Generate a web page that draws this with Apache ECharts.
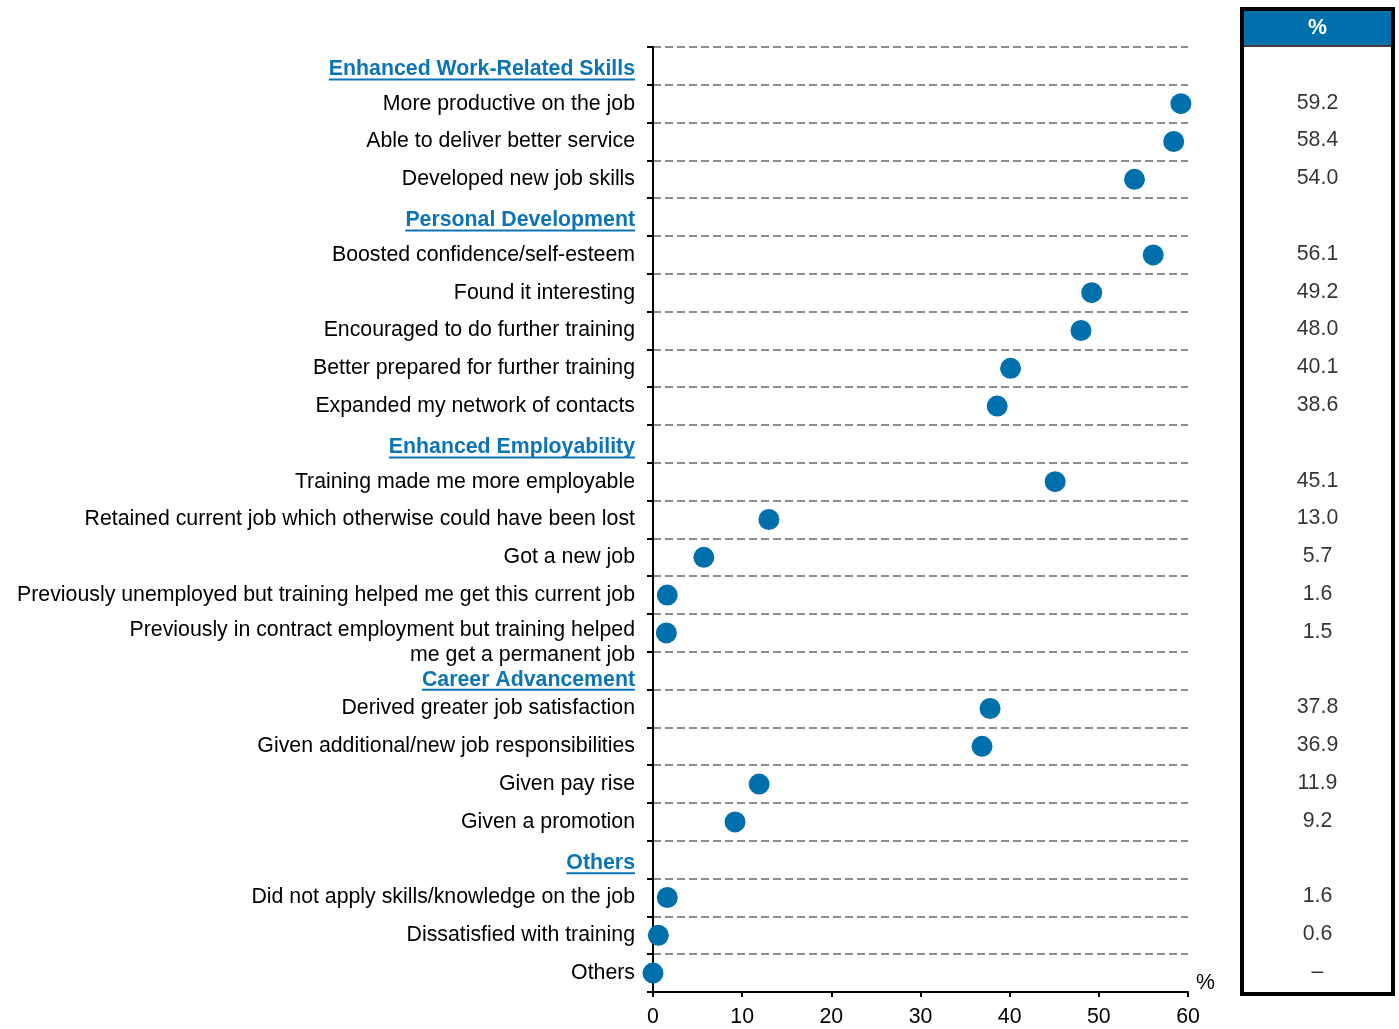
<!DOCTYPE html>
<html>
<head>
<meta charset="utf-8">
<script src="https://cdn.jsdelivr.net/npm/echarts@6/dist/echarts.min.js"></script>
<style>
  html, body { margin: 0; padding: 0; background: #fff; }
  #chart { width: 1399px; height: 1029px; }
</style>
</head>
<body>
<div id="chart"></div>
<script>
// Survey outcomes of training, grouped by section (percent of respondents)
const sections = [
  'Enhanced Work-Related Skills',
  'Personal Development',
  'Enhanced Employability',
  'Career Advancement',
  'Others'
];
const sectionItems = [
  ['More productive on the job', 'Able to deliver better service', 'Developed new job skills'],
  ['Boosted confidence/self-esteem', 'Found it interesting', 'Encouraged to do further training',
   'Better prepared for further training', 'Expanded my network of contacts'],
  ['Training made me more employable', 'Retained current job which otherwise could have been lost',
   'Got a new job', 'Previously unemployed but training helped me get this current job',
   'Previously in contract employment but training helped\nme get a permanent job'],
  ['Derived greater job satisfaction', 'Given additional/new job responsibilities',
   'Given pay rise', 'Given a promotion'],
  ['Did not apply skills/knowledge on the job', 'Dissatisfied with training', 'Others']
];
const sectionShares = [
  [59.2, 58.4, 54.0],
  [56.1, 49.2, 48.0, 40.1, 38.6],
  [45.1, 13.0, 5.7, 1.6, 1.5],
  [37.8, 36.9, 11.9, 9.2],
  [1.6, 0.6, 0]
];
const xTicks = { min: 0, max: 60, step: 10 };

// Flatten sections into axis rows: a heading row followed by its items
const categories = [];
const isHeader = [];
const shares = [];
sections.forEach((name, s) => {
  categories.push(name); isHeader.push(true); shares.push(null);
  sectionItems[s].forEach((item, k) => {
    categories.push(item); isHeader.push(false); shares.push(sectionShares[s][k]);
  });
});

const FONT = '"Liberation Sans", Arial, Helvetica, sans-serif';
const FS = 21.3;
const BLUE = '#0070AD';
const HEAD_BLUE = '#0B74B6';

// heading drops a little below its row; more when the row above is two lines
function headerPad(i) {
  return (i > 0 && categories[i - 1].indexOf('\n') >= 0) ? 18 : 7;
}

const dotData = [];
const tableData = [];
shares.forEach((v, i) => {
  if (v === null) return;
  dotData.push([v, i]);
  tableData.push({ value: [0.5, i], text: v === 0 ? '\u2013' : v.toFixed(1) });
});

const chart = echarts.init(document.getElementById('chart'), null, { renderer: 'canvas' });

const option = {
  animation: false,
  backgroundColor: '#fff',
  textStyle: { fontFamily: FONT },
  grid: [
    { left: 653, right: 211, top: 47, bottom: 37 },
    { left: 1244, width: 147, top: 47, bottom: 37 }
  ],
  xAxis: [
    {
      type: 'value', gridIndex: 0,
      min: xTicks.min, max: xTicks.max, interval: xTicks.step,
      axisLine: { show: true, lineStyle: { color: '#000', width: 2 } },
      axisTick: { show: true, length: 5, lineStyle: { color: '#000', width: 2 } },
      axisLabel: { fontSize: FS, color: '#000', margin: 15, fontFamily: FONT },
      splitLine: { show: false },
      name: '%', nameLocation: 'end', nameGap: 8,
      nameTextStyle: { fontSize: FS, color: '#000', align: 'left', verticalAlign: 'bottom', lineHeight: 18, fontFamily: FONT },
      z: 5
    },
    {
      type: 'value', gridIndex: 1, min: 0, max: 1, show: false
    }
  ],
  yAxis: [
    {
      type: 'category', gridIndex: 0, data: categories, inverse: true,
      axisLine: { show: true, lineStyle: { color: '#000', width: 2 } },
      axisTick: { show: true, length: 6, lineStyle: { color: '#000', width: 2 } },
      splitLine: { show: true, lineStyle: { color: '#8c8c8c', width: 2, type: [8, 4] } },
      axisLabel: {
        margin: 18,
        interval: 0,
        formatter: function (value, index) {
          if (isHeader[index]) {
            return headerPad(index) > 8 ? '{h2|' + value + '}' : '{h|' + value + '}';
          }
          if (value.indexOf('\n') >= 0) {
            const parts = value.split('\n');
            return '{m1|' + parts[0] + '}\n{m2|' + parts[1] + '}';
          }
          return '{t|' + value + '}';
        },
        rich: {
          t: { fontSize: FS, color: '#000', fontFamily: FONT },
          m1: { fontSize: FS, color: '#000', fontFamily: FONT, padding: [23, 0, 0, 0] },
          m2: { fontSize: FS, color: '#000', fontFamily: FONT, lineHeight: 29 },
          h: { fontSize: FS, fontWeight: 'bold', color: HEAD_BLUE, fontFamily: FONT, padding: [7, 0, 0, 0] },
          h2: { fontSize: FS, fontWeight: 'bold', color: HEAD_BLUE, fontFamily: FONT, padding: [18, 0, 0, 0] }
        }
      }
    },
    {
      type: 'category', gridIndex: 1, data: categories, inverse: true, show: false
    }
  ],
  series: [
    {
      type: 'scatter', xAxisIndex: 0, yAxisIndex: 0,
      data: dotData, symbolSize: 21, clip: false,
      itemStyle: { color: BLUE, opacity: 1 },
      z: 10
    },
    {
      type: 'scatter', xAxisIndex: 1, yAxisIndex: 1,
      data: tableData, symbolSize: 1, clip: false,
      itemStyle: { color: 'rgba(0,0,0,0)' },
      label: {
        show: true, position: 'inside', offset: [0, -1],
        fontSize: FS, color: '#000', fontFamily: FONT,
        formatter: function (p) { return p.data.text; }
      },
      z: 10
    }
  ]
};

chart.setOption(option);

// Underlines for section headings and the side table frame
const measureCtx = document.createElement('canvas').getContext('2d');
measureCtx.font = 'bold ' + FS + 'px ' + FONT;
const axisX = chart.convertToPixel({ xAxisIndex: 0 }, 0);
const labelRight = axisX - 18;
const graphics = [];
categories.forEach((name, i) => {
  if (!isHeader[i]) return;
  const cy = chart.convertToPixel({ yAxisIndex: 0 }, i) + headerPad(i) / 2;
  const w = measureCtx.measureText(name).width;
  graphics.push({
    type: 'line', silent: true, z: 20,
    shape: { x1: labelRight - w, y1: cy + 10, x2: labelRight, y2: cy + 10 },
    style: { stroke: HEAD_BLUE, lineWidth: 2 }
  });
});

graphics.push(
  {
    type: 'rect', silent: true, z: 1,
    shape: { x: 1244, y: 11, width: 147, height: 34 },
    style: { fill: BLUE }
  },
  {
    type: 'line', silent: true, z: 2,
    shape: { x1: 1244, y1: 46, x2: 1391, y2: 46 },
    style: { stroke: '#000', lineWidth: 1.5 }
  },
  {
    type: 'rect', silent: true, z: 3,
    shape: { x: 1242, y: 9, width: 151, height: 985 },
    style: { fill: 'none', stroke: '#000', lineWidth: 4 }
  },
  {
    type: 'text', silent: true, z: 4,
    x: 1317.5, y: 28,
    style: { text: '%', fill: '#fff', font: 'bold ' + FS + 'px ' + FONT, align: 'center', verticalAlign: 'middle' }
  }
);

chart.setOption({ graphic: graphics });
</script>
</body>
</html>
